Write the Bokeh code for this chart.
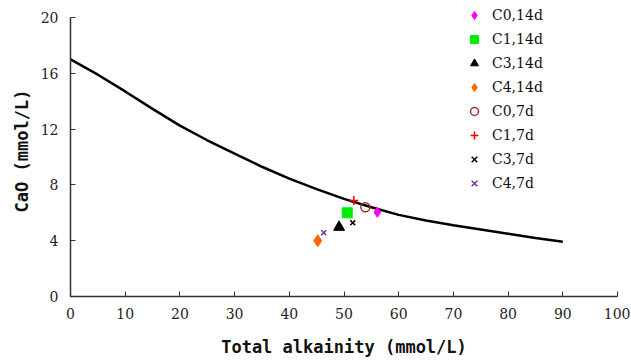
from bokeh.plotting import figure
from bokeh.models import Range1d, FixedTicker, Legend, LegendItem
from bokeh.embed import file_html
from bokeh.resources import INLINE

# Fitted curve (total alkalinity vs CaO)
curve_x = [0, 5, 10, 15, 20, 25, 30, 35, 40, 45, 50, 55, 60, 65, 70, 75, 80, 85, 90]
curve_y = [17.0, 15.9, 14.7, 13.45, 12.25, 11.2, 10.25, 9.3, 8.45, 7.7, 7.0, 6.4, 5.85, 5.45, 5.1, 4.8, 4.5, 4.2, 3.92]

# Measured points
labels = ["C0,14d", "C1,14d", "C3,14d", "C4,14d", "C0,7d", "C1,7d", "C3,7d", "C4,7d"]
pts_x = [56.1, 50.6, 49.1, 45.2, 53.9, 51.8, 51.6, 46.3]
pts_y = [6.04, 6.0, 4.97, 4.0, 6.4, 6.88, 5.28, 4.57]

x_ticks = [0, 10, 20, 30, 40, 50, 60, 70, 80, 90, 100]
y_ticks = [0, 4, 8, 12, 16, 20]

markers = ["diamond", "square", "triangle", "diamond", "circle", "cross", "x", "x"]
colors = ["#ff00ff", "#00ee00", "#000000", "#ff6600", "#993333", "#ff0000", "#000000", "#7030a0"]
sizes = [10, 10, 11, 12, 9, 9, 7, 7]
filled = [True, True, True, True, False, False, False, False]

p = figure(width=630, height=359, output_backend="svg", toolbar_location=None,
           x_range=Range1d(0, 100), y_range=Range1d(0, 20.86),
           min_border_left=70, min_border_right=13, min_border_top=5, min_border_bottom=40)
p.outline_line_color = None
p.xgrid.visible = False
p.ygrid.visible = False
p.background_fill_color = "white"

p.line(curve_x, curve_y, line_color="black", line_width=2.5)

items = []
for i in range(len(labels)):
    if filled[i]:
        r = p.scatter([pts_x[i]], [pts_y[i]], marker=markers[i], size=sizes[i],
                      fill_color=colors[i], line_color=colors[i])
    else:
        r = p.scatter([pts_x[i]], [pts_y[i]], marker=markers[i], size=sizes[i],
                      fill_color=None, line_color=colors[i], line_width=1.5)
    items.append(LegendItem(label=labels[i], renderers=[r]))

legend = Legend(items=items, location=(394, 103), border_line_color=None,
                background_fill_alpha=0, padding=0, margin=0, spacing=4,
                glyph_width=20, glyph_height=20, label_height=20, label_standoff=8,
                label_text_font="DejaVu Serif", label_text_font_size="14px",
                label_text_color="#111111")
p.add_layout(legend)

for ax in (p.xaxis[0], p.yaxis[0]):
    ax.major_tick_in = 5
    ax.major_tick_out = 0
    ax.minor_tick_line_color = None
    ax.axis_line_color = "#333333"
    ax.major_tick_line_color = "#333333"
    ax.axis_line_width = 1.5
    ax.major_label_text_font = "DejaVu Serif"
    ax.major_label_text_font_size = "14px"
    ax.major_label_text_color = "#222222"
    ax.axis_label_text_font = "DejaVu Sans Mono"
    ax.axis_label_text_font_size = "17px"
    ax.axis_label_text_font_style = "bold"
    ax.axis_label_text_color = "#111111"

p.xaxis[0].ticker = FixedTicker(ticks=x_ticks)
p.yaxis[0].ticker = FixedTicker(ticks=y_ticks)
p.yaxis[0].bounds = (0, 20)
p.xaxis[0].axis_label = "Total alkainity (mmol/L)"
p.yaxis[0].axis_label = "CaO (mmol/L)"
p.xaxis[0].major_label_standoff = 11
p.xaxis[0].axis_label_standoff = 15
p.yaxis[0].major_label_standoff = 12
p.yaxis[0].axis_label_standoff = 6

open("out.html", "w").write(file_html(p, INLINE))
